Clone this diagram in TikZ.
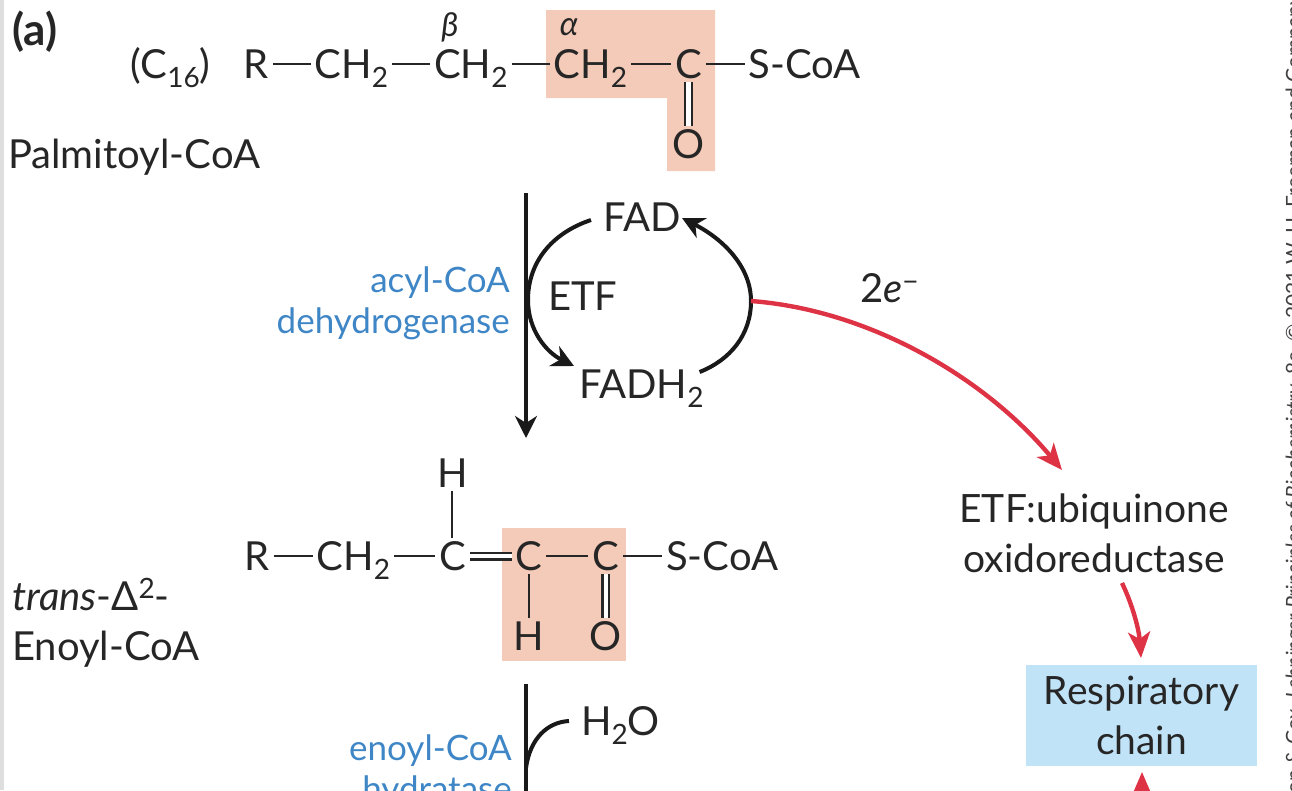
\documentclass[tikz,border=0pt]{standalone}
\usepackage{fontspec}
\setmainfont{Lato}
\usepackage{xcolor}
\usetikzlibrary{arrows.meta,positioning,calc}
\definecolor{peach}{HTML}{F4CAB8}
\definecolor{skyfill}{HTML}{C1E3F8}
\definecolor{enzblue}{HTML}{3F86C6}
\definecolor{elecred}{HTML}{DD3345}
\newcommand{\lowtwo}{\raisebox{-9pt}{\fontsize{28}{28}\selectfont 2}}
\begin{document}
\begin{tikzpicture}[
  x=1pt, y=-1pt,
  node distance=10pt and 10pt,
  atom/.style={inner sep=0pt, outer sep=4pt, text height=28pt, text depth=0pt, font=\fontsize{40}{46}\selectfont, text=black!85},
  lbl/.style={inner sep=0pt, align=left, font=\fontsize{40}{50}\selectfont, text=black!85},
  midlbl/.style={lbl, align=center, font=\fontsize{39}{50}\selectfont},
  enz/.style={inner sep=0pt, align=right, font=\fontsize{35}{41}\selectfont, text=enzblue},
  greek/.style={inner sep=0pt, font=\fontsize{33}{33}\itshape\selectfont, text=black!85},
  bond/.style={line width=2.2pt, black!85},
  dbond/.style={line width=2.2pt, black!85, double=white, double distance=4.6pt},
  arr/.style={line width=4pt, black!90, -{Stealth[length=22pt,width=22pt,inset=7pt]}},
  redarr/.style={line width=4.4pt, elecred, -{Stealth[length=26pt,width=22pt,inset=7pt]}},
  plainarc/.style={line width=4pt, black!90},
]
\useasboundingbox (0,0) rectangle (1292,790);
\clip (0,0) rectangle (1292,790);
\fill[black!13] (0,0) rectangle (4,790);
% shaded groups
\fill[peach] (546,10) -- (715,10) -- (715,171) -- (667,171) -- (667,98) -- (546,98) -- cycle;
\fill[peach] (502,528) rectangle (626,661);
\node[lbl, anchor=west, font=\fontsize{44}{44}\bfseries\selectfont] (panel) at (12,32) {(a)};
% palmitoyl-CoA
\node[atom] (r1) at (256,64) {R};
\node[atom, right=38pt of r1] (ch1) {CH\lowtwo};
\node[atom, right=38pt of ch1] (ch2) {CH\lowtwo};
\node[atom, right=38pt of ch2] (ch3) {CH\lowtwo};
\node[atom, right=40pt of ch3] (c1) {C};
\node[atom, right=39pt of c1] (s1) {S-CoA};
\node[atom, below=44pt of c1] (o1) {O};
\node[atom, left=25pt of r1] (len) {(C\raisebox{-9pt}{\fontsize{28}{28}\selectfont 16})};
\node[greek] (beta) at (450,27) {β};
\node[greek] (alpha) at (569,27) {α};
\node[lbl, anchor=west] (palm) at (8,157) {Palmitoyl-CoA};
\draw[bond] (r1) -- (ch1);
\draw[bond] (ch1) -- (ch2);
\draw[bond] (ch2) -- (ch3);
\draw[bond] (ch3) -- (c1);
\draw[bond] (c1) -- (s1);
\draw[dbond] (c1) -- (o1);
% dehydrogenation
\coordinate (top1) at (526,193);
\coordinate (bot1) at (526,438);
\draw[arr] (top1) -- (bot1);
\node[atom, anchor=west] (fad) at (599,217) {FAD};
\node[atom, anchor=west] (fadh) at (575,384) {FADH\lowtwo};
\node[atom, anchor=west] (etf) at (544,296) {ETF};
\node[enz, anchor=east] (acyl) at (510,303) {acyl-CoA\\dehydrogenase};
\coordinate (rim) at (751,301);
\draw[arr] (fad.west) ++(-8,3) .. controls (552,233) and (528,262) .. (528,300) .. controls (528,330) and (546,352) .. (574,366);
\draw[plainarc] (fadh.east) ++(-8,-12) .. controls (730,360) and (751,335) .. (751,301);
\draw[arr] (rim) .. controls (751,268) and (725,240) .. (682,218);
\node[atom, anchor=west] (twoe) at (856,288) {2\textit{e}\raisebox{11pt}{\fontsize{28}{28}\selectfont −}};
\node[midlbl] (etfq) at (1094,533) {ETF:ubiquinone\\oxidoreductase};
\node[midlbl, fill=skyfill, minimum width=231pt, minimum height=101pt] (resp) at (1141.5,715.5) {Respiratory\\chain};
\draw[redarr] (rim) .. controls (870,310) and (985,378) .. (1062,470);
\coordinate (etfout) at (1122,583);
\draw[redarr] (etfout) .. controls (1133,606) and (1139,630) .. (1141,658);
\coordinate (lowin) at (1142,800);
\coordinate (lowtip) at (1142,772);
\draw[redarr] (lowin) -- (lowtip);
% trans-enoyl-CoA
\node[atom] (r2) at (257,556) {R};
\node[atom, right=39pt of r2] (ch4) {CH\lowtwo};
\node[atom, right=41pt of ch4] (c2) {C};
\node[atom, right=42pt of c2] (c3) {C};
\node[atom, right=42pt of c3] (c4) {C};
\node[atom, right=39pt of c4] (s2) {S-CoA};
\node[atom, above=47pt of c2] (h1) {H};
\node[atom, below=44pt of c3] (h2) {H};
\node[atom, below=44pt of c4] (o2) {O};
\node[lbl, anchor=north west] (enoyl) at (12,578) {\textit{trans}-Δ\raisebox{12pt}{\fontsize{28}{28}\selectfont 2}-\\Enoyl-CoA};
\draw[bond] (r2) -- (ch4);
\draw[bond] (ch4) -- (c2);
\draw[dbond] (c2) -- (c3);
\draw[bond] (c3) -- (c4);
\draw[bond] (c4) -- (s2);
\draw[bond] (c2) -- (h1);
\draw[bond] (c3) -- (h2);
\draw[dbond] (c4) -- (o2);
% hydration
\coordinate (top2) at (526,684);
\coordinate (bot2) at (526,800);
\coordinate (join) at (526,768);
\draw[plainarc] (top2) -- (bot2);
\node[atom, anchor=west] (water) at (577,721) {H\lowtwo O};
\draw[plainarc] (water.west) ++(-8,0) .. controls (548,722) and (530,738) .. (join);
\node[enz, anchor=north east] (hydra) at (512,735) {enoyl-CoA\\hydratase};
% credit line
\node[rotate=90, anchor=base east, inner sep=0pt, font=\fontsize{21}{21}\selectfont, text=black!75] (credit) at (1301,-5) {Nelson \& Cox, \textit{Lehninger Principles of Biochemistry}, 8e, © 2021 W. H. Freeman and Company};
\end{tikzpicture}
\end{document}
